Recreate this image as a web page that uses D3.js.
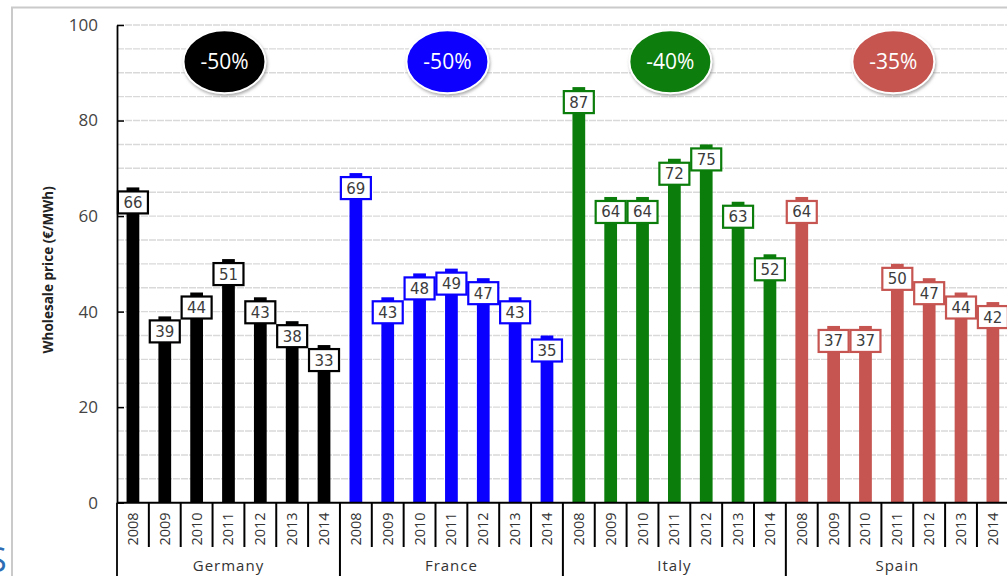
<!DOCTYPE html>
<html><head><meta charset="utf-8">
<script src="https://cdn.jsdelivr.net/npm/d3@7"></script>
<style>html,body{margin:0;padding:0;background:#fff;overflow:hidden}svg{display:block}</style>
</head><body>
<script>
const countries = ["Germany", "France", "Italy", "Spain"];
const years = ["2008", "2009", "2010", "2011", "2012", "2013", "2014"];
const germany = [66, 39, 44, 51, 43, 38, 33];
const france = [69, 43, 48, 49, 47, 43, 35];
const italy = [87, 64, 64, 72, 75, 63, 52];
const spain = [64, 37, 37, 50, 47, 44, 42];
const changes = ["-50%", "-50%", "-40%", "-35%"];
const colors = ["#000000", "#0a00ff", "#0a7d0a", "#c65450"];
const yTicks = [0, 20, 40, 60, 80, 100];
const yTitle = "Wholesale price (€/MWh)";

const series = [germany, france, italy, spain];
const rows = [];
countries.forEach((c, ci) => years.forEach((y, yi) => rows.push({key: c + "-" + y, country: c, ci, year: y, value: series[ci][yi]})));

const W = 1007, H = 576;
const svg = d3.select("body").append("svg").attr("width", W).attr("height", H);
const defs = svg.append("defs");
const f = defs.append("filter").attr("id", "sh").attr("x", "-30%").attr("y", "-30%").attr("width", "160%").attr("height", "160%");
f.append("feDropShadow").attr("dx", 1).attr("dy", 2).attr("stdDeviation", 1.8).attr("flood-color", "#777").attr("flood-opacity", 0.6);

// frame
svg.append("path").attr("d", "M12,577 V7.5 H1010").attr("fill", "none").attr("stroke", "#cacaca").attr("stroke-width", 2);

const x0 = 117, step = 31.85;
const x = d3.scaleBand().domain(rows.map(d => d.key)).range([x0, x0 + rows.length * step]).paddingInner(0.6).paddingOuter(0.3);
const y = d3.scaleLinear().domain([0, 100]).range([502.7, 25]);

// gridlines
const grid = d3.range(5, 101, 5);
svg.append("g").selectAll("line").data(grid).join("line")
  .attr("x1", x0).attr("x2", W).attr("y1", d => y(d)).attr("y2", d => y(d))
  .attr("stroke", "#d9d9d9").attr("stroke-width", 1.4).attr("stroke-dasharray", "7,1");

// y axis
const ya = svg.append("g").attr("transform", `translate(${x0},0)`)
  .call(d3.axisLeft(y).tickValues(yTicks).tickSizeInner(-7).tickSizeOuter(0).tickPadding(19));
ya.select(".domain").attr("stroke", "#000").attr("stroke-width", 1.8);
ya.selectAll(".tick line").attr("stroke", "#000").attr("stroke-width", 1.5);
ya.selectAll(".tick text").attr("font-family", "Open Sans").attr("font-size", 17).attr("fill", "#444");
svg.append("line").attr("x1", x0).attr("x2", x0).attr("y1", y(0)).attr("y2", H).attr("stroke", "#000").attr("stroke-width", 1.8);

svg.append("text").attr("transform", `translate(53,${(y(0) + y(100)) / 2 + 6}) rotate(-90)`)
  .attr("text-anchor", "middle").attr("font-family", "Open Sans").attr("font-weight", "bold")
  .attr("font-size", 13.5).attr("fill", "#222").text(yTitle);

// bars
svg.append("g").selectAll("rect").data(rows).join("rect")
  .attr("x", d => x(d.key)).attr("width", x.bandwidth())
  .attr("y", d => y(d.value)).attr("height", d => y(0) - y(d.value))
  .attr("fill", d => colors[d.ci]);

// value boxes
const lb = svg.append("g").selectAll("g").data(rows).join("g")
  .attr("transform", d => `translate(${x(d.key) + x.bandwidth() / 2},${y(d.value) + 4})`);
lb.append("rect").attr("x", -15).attr("y", 0).attr("width", 30).attr("height", 22)
  .attr("fill", "#fff").attr("stroke", d => colors[d.ci]).attr("stroke-width", 2.2);
lb.append("text").attr("x", 0).attr("y", 16.5).attr("text-anchor", "middle")
  .attr("font-family", "DejaVu Sans").attr("font-size", 15).attr("fill", "#3c3c3c").text(d => d.value);

// x axis line
svg.append("line").attr("x1", x0).attr("x2", W).attr("y1", y(0)).attr("y2", y(0)).attr("stroke", "#000").attr("stroke-width", 2);

// separators
const bounds = d3.range(1, rows.length + 1);
svg.append("g").selectAll("line").data(bounds).join("line")
  .attr("x1", i => x0 + i * step).attr("x2", i => x0 + i * step)
  .attr("y1", y(0)).attr("y2", i => i % years.length === 0 ? H : 547)
  .attr("stroke", "#000").attr("stroke-width", 2);

// year labels
svg.append("g").selectAll("text").data(rows).join("text")
  .attr("transform", d => `translate(${x(d.key) + x.bandwidth() / 2 + 5},${529}) rotate(-90)`)
  .attr("text-anchor", "middle").attr("font-family", "Open Sans").attr("font-size", 14.5).attr("fill", "#333")
  .text(d => d.year);

// country labels
const gc = i => x0 + (i * years.length + years.length / 2) * step;
svg.append("g").selectAll("text").data(countries).join("text")
  .attr("x", (d, i) => gc(i)).attr("y", 571).attr("text-anchor", "middle")
  .attr("font-family", "Open Sans").attr("font-size", 15).attr("letter-spacing", 1).attr("fill", "#333").text(d => d);

// badges
const bg = svg.append("g").selectAll("g").data(countries).join("g")
  .attr("transform", (d, i) => `translate(${gc(i) - 4},${y(92.3)})`);
bg.append("ellipse").attr("rx", 41).attr("ry", 31.5).attr("fill", (d, i) => colors[i])
  .attr("stroke", "#fff").attr("stroke-width", 2).attr("filter", "url(#sh)");
bg.append("text").attr("y", 7.5).attr("text-anchor", "middle").attr("font-family", "Open Sans")
  .attr("font-size", 21).attr("fill", "#fff").text((d, i) => changes[i]);

// partial letter at bottom-left edge
svg.append("text").attr("x", -12).attr("y", 572).attr("font-family", "Open Sans").attr("font-size", 34)
  .attr("fill", "#2e6db4").text("S");
</script>
</body></html>
